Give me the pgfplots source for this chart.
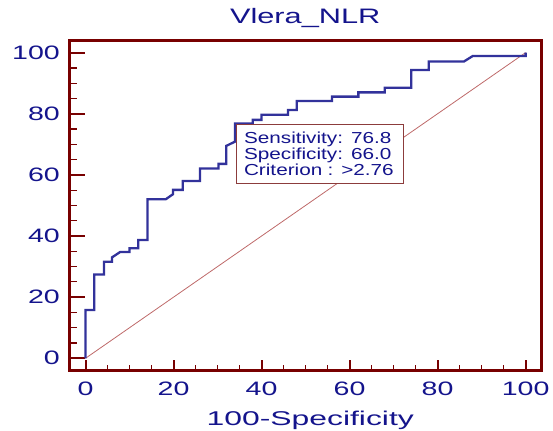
\documentclass[border=0pt]{standalone}
\usepackage{pgfplots}
\pgfplotsset{compat=1.18}
\usepackage{fontspec}
\setmainfont{Liberation Sans}[FakeStretch=1.47]
\newfontfamily\boxfont{Liberation Sans}[FakeStretch=1.3]
\newfontfamily\labfont{Liberation Sans}[FakeStretch=1.6]

\definecolor{navy}{RGB}{20,20,140}
\definecolor{rocblue}{RGB}{50,50,155}
\definecolor{framered}{RGB}{120,0,0}
\definecolor{diagred}{RGB}{190,105,105}
\definecolor{boxline}{RGB}{140,60,60}

\begin{document}
\begin{tikzpicture}
\begin{axis}[
    scale only axis,
    width=471.5bp, height=329.3bp,
    xmin=-3.64, xmax=103.5,
    ymin=-3.83, ymax=103.9,
    xtick={0,20,...,100}, ytick={0,20,...,100},
    minor tick num=3,
    tick align=inside,
    xtick pos=bottom, ytick pos=left,
    axis line style={draw=framered, line width=3bp},
    tick style={draw=framered},
    major tick style={line width=2bp},
    minor tick style={line width=1.2bp},
    xtick style={/pgfplots/major tick length=10bp, /pgfplots/minor tick length=5bp},
    ytick style={/pgfplots/major tick length=16bp, /pgfplots/minor tick length=8bp},
    /pgf/number format/assume math mode=true,
    ticklabel style={font=\fontsize{19.5}{20}\selectfont, text=navy, inner sep=0pt},
    xticklabel style={anchor=base, yshift=-25.5bp},
    yticklabel style={anchor=east, xshift=-9.5bp},
    title={Vlera\_NLR},
    title style={font=\fontsize{21}{22}\selectfont, text=navy, at={(0.5,1)},
        anchor=base, yshift=11.4bp, inner sep=0pt},
    xlabel={100-Specificity},
    xlabel style={font=\labfont\fontsize{20}{21}\selectfont, text=navy, at={(0.5,0)},
        anchor=base, yshift=-55.7bp, xshift=5bp, inner sep=0pt},
]
% chance line
\addplot[diagred, line width=0.8bp] coordinates {(0,0) (100,100)};

% ROC curve
\addplot[rocblue, line width=2.3bp] coordinates {
    (0,0) (0,15.8) (2,15.8) (2,27.4) (4.2,27.4) (4.2,31.6)
    (6,31.6) (6,33) (7.9,34.8) (10,34.8) (10,36) (12,36)
    (12,38.7) (14.1,38.7) (14.1,52) (18.2,52) (19.9,53.7) (19.9,55.1)
    (22.1,55.1) (22.1,58) (26,58) (26,62.1) (30.2,62.1) (30.2,63.6)
    (32,63.6) (32,69.5) (34,70.9) (34,76.8) (38,76.8) (38,78)
    (40,78) (40,79.7) (46,79.7) (46,81.2) (48,81.2) (48,84.2)
    (56,84.2) (56,85.6) (62,85.6) (62,87) (68,87) (68,88.5)
    (74,88.5) (74,94.3) (78,94.3) (78,97.1) (86,97.1) (88,98.9)
    (100,98.9) (100,100)
};

\node[draw=boxline, line width=1bp, fill=white, anchor=north west, align=left,
    text width=152bp, inner xsep=7.5bp, inner ysep=7.5bp,
    font=\boxfont\fontsize{16}{16.2}\selectfont, text=navy]
    at (axis cs:34.2,76.7) {Sensitivity: 76.8\\Specificity: 66.0\\Criterion : >2.76};
\end{axis}
\pgfresetboundingbox
\path ([shift={(-69.5bp,-61bp)}]current axis.south west)
    rectangle ([shift={(12bp,40.7bp)}]current axis.north east);
\end{tikzpicture}
\end{document}
